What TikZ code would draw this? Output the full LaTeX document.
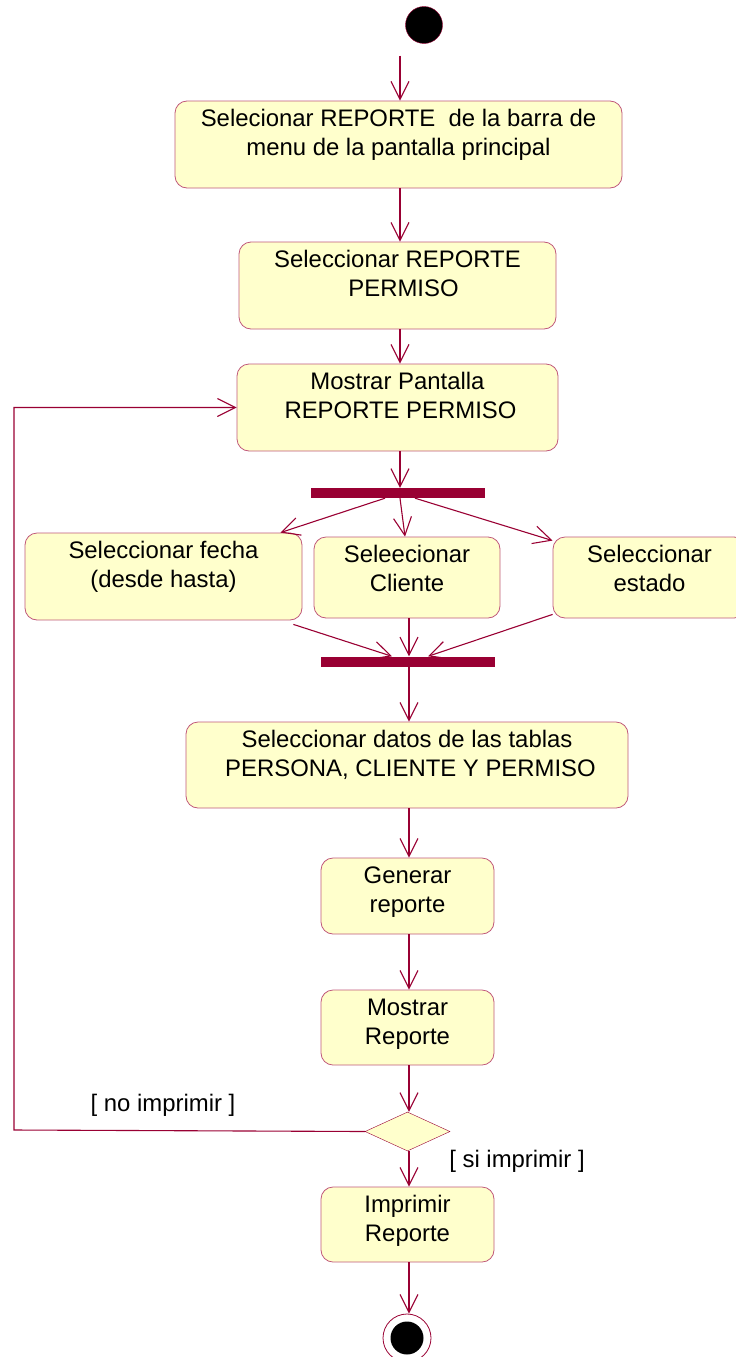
\documentclass[tikz,border=0pt]{standalone}
\usepackage{fontspec}
\setmainfont{Liberation Sans}
\usetikzlibrary{arrows.meta, shapes.geometric}
\definecolor{rosered}{HTML}{990033}
\definecolor{actyellow}{HTML}{FFFFCC}
\definecolor{actborder}{HTML}{C0587A}
\newcommand{\acttext}[3]{\parbox[c][#2pt][t]{#1pt}{\centering\rule{0pt}{25.5pt}#3}}

\begin{document}
\begin{tikzpicture}[x=1pt, y=-1pt,
    act/.style={draw=actborder, fill=actyellow, rounded corners=12pt, inner sep=0pt, line width=0.8pt},
    flow/.style={draw=rosered, line width=1.1pt, -{Straight Barb[length=18pt, width=18pt]}},
    bar/.style={fill=rosered, minimum width=174pt, minimum height=10pt, inner sep=0pt},
    every node/.append style={font=\fontsize{23.9}{29}\selectfont}]
            \useasboundingbox (0,0) rectangle (736,1357);

            \node[circle, fill=black, draw=rosered, minimum size=37pt, inner sep=0pt] (start) at (424,25) {};
            \node[act] (act1) at (398.5,144.5) {\acttext{447}{87}{Selecionar REPORTE\ \ de la barra de\\menu de la pantalla principal}};
            \node[act] (act2) at (397.5,285.5) {\acttext{317}{87}{Seleccionar REPORTE\\\hspace*{12pt}PERMISO}};
            \node[act] (act3) at (397.5,407.5) {\acttext{321}{87}{Mostrar Pantalla\\\hspace*{6pt}REPORTE PERMISO}};
            \node[bar] (fork) at (398,493) {};
            \node[act] (act4) at (163.5,576.5) {\acttext{277}{87}{Seleccionar fecha\\(desde hasta)}};
            \node[act] (act5) at (407,577.5) {\acttext{186}{81}{Seleecionar\\Cliente}};
            \node[act] (act6) at (649.5,577.5) {\acttext{193}{81}{Seleccionar\\estado}};
            \node[bar] (join) at (407.5,661.5) {};
            \node[act] (act7) at (407,765) {\acttext{442}{86}{Seleccionar datos de las tablas\\\hspace*{7pt}PERSONA, CLIENTE Y PERMISO}};
            \node[act] (act8) at (407.5,896) {\acttext{173}{76}{Generar\\reporte}};
            \node[act] (act9) at (407.5,1027.5) {\acttext{173}{75}{Mostrar\\Reporte}};
            \node[diamond, draw=rosered, fill=actyellow, minimum width=85pt, minimum height=39pt, inner sep=0pt] (dec) at (407.5,1131.5) {};
            \node[act] (act10) at (407.5,1224.5) {\acttext{173}{75}{Imprimir\\Reporte}};
            \node[circle, draw=rosered, minimum size=48pt, inner sep=0pt, line width=0.8pt] (end) at (407,1338) {};
            \fill[black] (end.center) circle[radius=16.5pt];

            \node (noimp) at (163,1105) {[ no imprimir ]};
            \node (siimp) at (517,1161) {[ si imprimir ]};

            % main line
            \draw[flow] ([xshift=-24pt,yshift=-12pt]start.south) -- ([xshift=1.5pt]act1.north);
            \draw[flow] ([xshift=1.5pt]act1.south) -- ([xshift=2.5pt]act2.north);
            \draw[flow] ([xshift=2.5pt]act2.south) -- ([xshift=2.5pt]act3.north);
            \draw[flow] ([xshift=2.5pt]act3.south) -- ([xshift=2pt]fork.north);

            % fork and join
            \draw[flow] ([xshift=-13pt]fork.south) -- ([xshift=-22pt]act4.north east);
            \draw[flow] ([xshift=2pt]fork.south) -- ([xshift=-2pt]act5.north);
            \draw[flow] ([xshift=17pt]fork.south) -- ([yshift=-4pt]act6.north west);
            \draw[flow] ([xshift=-9pt,yshift=-4pt]act4.south east) -- ([xshift=-15.5pt]join.north);
            \draw[flow] ([xshift=2pt]act5.south) -- ([xshift=1.5pt]join.north);
            \draw[flow] ([yshift=4pt]act6.south west) -- ([xshift=20.5pt]join.north);

            \draw[flow] ([xshift=1.5pt]join.south) -- ([xshift=2pt]act7.north);
            \draw[flow] ([xshift=2pt]act7.south) -- ([xshift=1.5pt]act8.north);
            \draw[flow] ([xshift=1.5pt]act8.south) -- ([xshift=1.5pt]act9.north);
            \draw[flow] ([xshift=1.5pt]act9.south) -- ([xshift=1.5pt]dec.north);
            \draw[flow] ([xshift=1.5pt]dec.south) -- ([xshift=1.5pt]act10.north);
            \draw[flow] ([xshift=1.5pt]act10.south) -- ([xshift=2pt]end.north);

            % back to the report screen
            \draw[flow] (dec.west) -- (14,1130) |- (act3.west);
\end{tikzpicture}
\end{document}
